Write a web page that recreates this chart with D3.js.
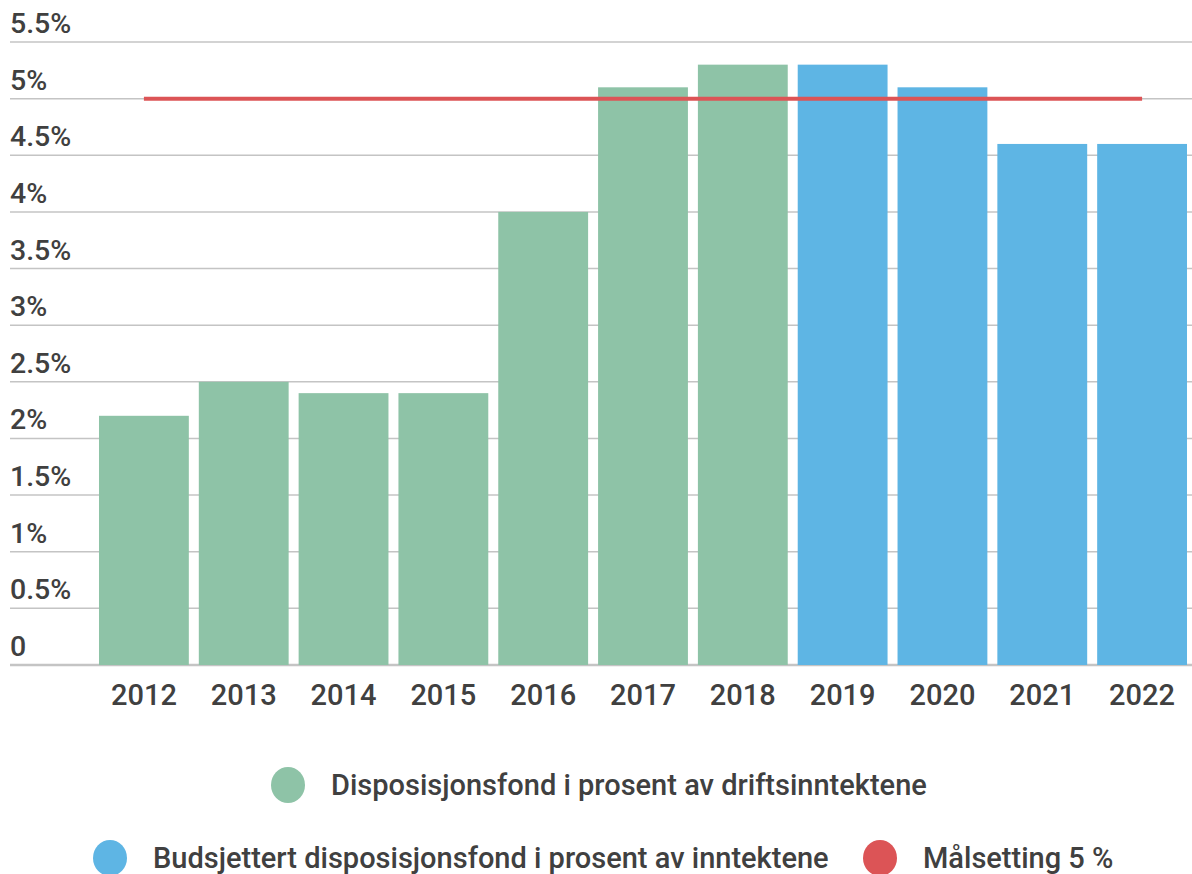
<!DOCTYPE html>
<html>
<head>
<meta charset="utf-8">
<script src="https://cdn.jsdelivr.net/npm/d3@7"></script>
<style>
  body { margin: 0; background: #fff; }
  text { font-family: Roboto, sans-serif; fill: #404040; }
</style>
</head>
<body>
<div id="chart"></div>
<script>
let years = ['2012', '2013', '2014', '2015', '2016', '2017', '2018', '2019', '2020', '2021', '2022']
let values = [2.2, 2.5, 2.4, 2.4, 4.0, 5.1, 5.3, 5.3, 5.1, 4.6, 4.6]
let budgeted = [false, false, false, false, false, false, false, true, true, true, true]
let yTicks = [0, 0.5, 1, 1.5, 2, 2.5, 3, 3.5, 4, 4.5, 5, 5.5]
let tickLabels = ['0', '0.5%', '1%', '1.5%', '2%', '2.5%', '3%', '3.5%', '4%', '4.5%', '5%', '5.5%']
let target = 5
let legendLabels = [
  'Disposisjonsfond i prosent av driftsinntektene',
  'Budsjettert disposisjonsfond i prosent av inntektene',
  'Målsetting 5 %'
]

let width = 1192
let height = 874
let green = '#8ec3a7'
let blue = '#5eb5e4'
let red = '#dc5456'

let svg = d3
  .select('#chart')
  .append('svg')
  .attr('width', width)
  .attr('height', height)

let xPositionScale = d3
  .scaleBand()
  .domain(years)
  .range([94, 1192])
  .paddingInner(0.1)
  .paddingOuter(0.05)

let yPositionScale = d3.scaleLinear().domain([0, 5.5]).range([665, 42])

// gridlines + labels
let grid = svg.append('g').attr('class', 'grid')
grid
  .selectAll('line')
  .data(yTicks)
  .enter()
  .append('line')
  .attr('x1', 10)
  .attr('x2', width)
  .attr('y1', d => yPositionScale(d))
  .attr('y2', d => yPositionScale(d))
  .attr('stroke', '#c4c4c4')
  .attr('stroke-width', d => (d === 0 ? 2.5 : 1.5))

grid
  .selectAll('text')
  .data(yTicks)
  .enter()
  .append('text')
  .attr('x', 10)
  .attr('y', d => yPositionScale(d) - 9)
  .attr('font-size', 28.5)
  .attr('font-weight', 500)
  .text((d, i) => tickLabels[i])

// bars
svg
  .selectAll('.bar')
  .data(years)
  .enter()
  .append('rect')
  .attr('class', 'bar')
  .attr('x', d => xPositionScale(d))
  .attr('width', xPositionScale.bandwidth())
  .attr('y', (d, i) => yPositionScale(values[i]))
  .attr('height', (d, i) => yPositionScale(0) - yPositionScale(values[i]))
  .attr('fill', (d, i) => (budgeted[i] ? blue : green))

// target line
svg
  .append('line')
  .attr('x1', xPositionScale(years[0]) + xPositionScale.bandwidth() / 2)
  .attr('x2', xPositionScale(years[years.length - 1]) + xPositionScale.bandwidth() / 2)
  .attr('y1', yPositionScale(target))
  .attr('y2', yPositionScale(target))
  .attr('stroke', red)
  .attr('stroke-width', 4)

// x labels
svg
  .selectAll('.year')
  .data(years)
  .enter()
  .append('text')
  .attr('class', 'year')
  .attr('x', d => xPositionScale(d) + xPositionScale.bandwidth() / 2)
  .attr('y', 705)
  .attr('text-anchor', 'middle')
  .attr('font-size', 29)
  .attr('font-weight', 500)
  .text(d => d)

// legend
let legendItems = [
  { label: legendLabels[0], color: green, cx: 288, cy: 785 },
  { label: legendLabels[1], color: blue, cx: 110, cy: 858 },
  { label: legendLabels[2], color: red, cx: 880, cy: 858 }
]
let legend = svg
  .selectAll('.legend')
  .data(legendItems)
  .enter()
  .append('g')
  .attr('class', 'legend')
  .attr('transform', d => `translate(${d.cx}, ${d.cy})`)

legend
  .append('ellipse')
  .attr('rx', 17)
  .attr('ry', 18)
  .attr('fill', d => d.color)

legend
  .append('text')
  .attr('x', 43)
  .attr('y', 10)
  .attr('font-size', 29)
  .attr('font-weight', 500)
  .text(d => d.label)
</script>
</body>
</html>
